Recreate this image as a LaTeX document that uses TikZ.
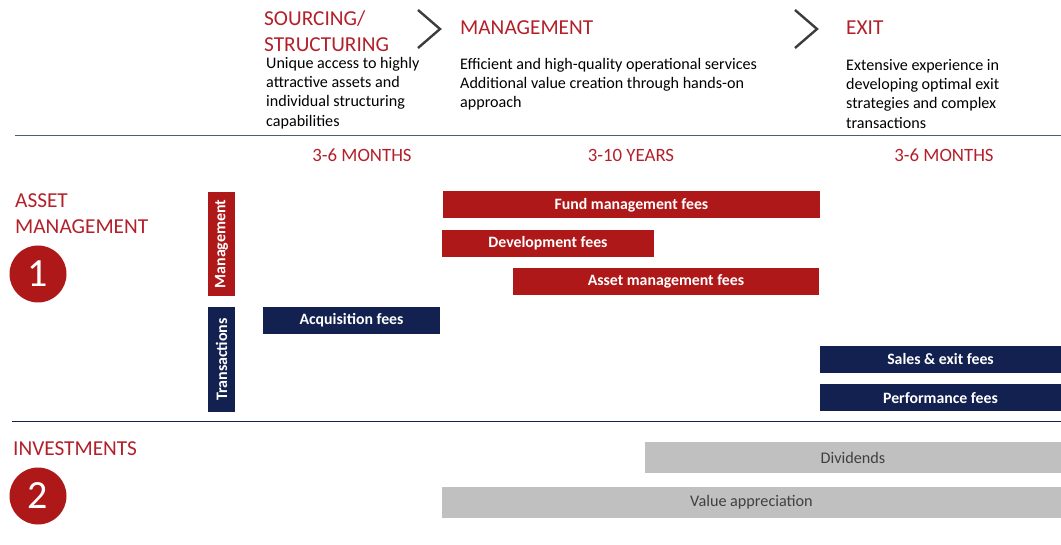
\documentclass[tikz,border=0pt]{standalone}
\usepackage{fontspec}
\setmainfont{Carlito}
\usetikzlibrary{positioning}

\definecolor{feered}{HTML}{AF1818}
\definecolor{headred}{HTML}{B3202A}
\definecolor{feenavy}{HTML}{12214F}
\definecolor{feegray}{HTML}{C0C0C0}
\definecolor{rulegray}{HTML}{4F5C78}
\definecolor{chevgray}{HTML}{3C3C3C}

\tikzset{
	head/.style={anchor=base west, inner sep=0, text=headred, font=\fontsize{21.3}{22}\selectfont},
	blurb/.style={anchor=north west, inner sep=0, align=left, font=\fontsize{16.1}{19.3}\selectfont},
	span/.style={inner sep=0, text=headred, font=\fontsize{18.8}{20}\selectfont},
	fee/.style={inner sep=0, minimum height=27pt, text=white, font=\fontsize{15.8}{17}\selectfont\bfseries},
	redfee/.style={fee, fill=feered},
	navyfee/.style={fee, fill=feenavy},
	grayfee/.style={fee, fill=feegray, minimum height=31pt, text=black!75, font=\fontsize{16.2}{17}\selectfont},
	tab/.style={inner sep=0, rotate=90, minimum height=27pt, text=white, font=\fontsize{16}{17}\selectfont\bfseries},
	num/.style={circle, fill=feered, minimum size=57pt, inner sep=0, text=white, font=\fontsize{40}{40}\selectfont},
	chevron/.style={chevgray, line width=2.4pt}
}

\begin{document}
\begin{tikzpicture}[x=1pt, y=-1pt]
	\useasboundingbox (0,0) rectangle (1061,545);

	% phases across the top
	\node[head] (src)  at (264,26) {SOURCING/};
	\node[head] (str)  at (264,52) {STRUCTURING};
	\node[head] (mgt)  at (460,35) {MANAGEMENT};
	\node[head] (exit) at (846,35) {EXIT};

	\draw[chevron] (418,10) -- (440,29) -- (418,48);
	\draw[chevron] (795,10) -- (817,29) -- (795,48);

	\node[blurb] (srctxt)  at (266,57) {Unique access to highly\\attractive assets and\\individual structuring\\capabilities};
	\node[blurb] (mgttxt)  at (460,58) {Efficient and high-quality operational services\\Additional value creation through hands-on\\approach};
	\node[blurb] (exittxt) at (846,59) {Extensive experience in\\developing optimal exit\\strategies and complex\\transactions};

	\draw[rulegray, line width=1.6pt] (15,135.5) -- (1061,135.5);

	% how long each phase lasts
	\node[span] (d1) at (362,155) {3-6 MONTHS};
	\node[span] (d2) at (631,155) {3-10 YEARS};
	\node[span] (d3) at (944,155) {3-6 MONTHS};

	% (1) asset management
	\node[head, anchor=base west] (am1) at (15,208) {ASSET};
	\node[head, anchor=base west] (am2) at (15,234) {MANAGEMENT};
	\node[num] (one) at (38,274) {1};

	\node[tab, fill=feered, minimum width=104pt]  (tabm) at (221.5,244) {Management};
	\node[tab, fill=feenavy, minimum width=105pt] (tabt) at (221.5,359.5) {Transactions};

	\node[redfee, minimum width=377pt] (fund)  at (631.5,205)   {Fund management fees};
	\node[redfee, minimum width=212pt] (dev)   at (548,243.5)   {Development fees};
	\node[redfee, minimum width=306pt] (asset) at (666,281.5)   {Asset management fees};

	\node[navyfee, minimum width=177pt] (acq)  at (351.5,320.5) {Acquisition fees};
	\node[navyfee, minimum width=241pt] (sale) at (940.5,359.5) {Sales \& exit fees};
	\node[navyfee, minimum width=241pt] (perf) at (940.5,398)   {Performance fees};

	\draw[feenavy, line width=1.3pt] (12,421.5) -- (1061,421.5);

	% (2) investments
	\node[head, anchor=base west] (inv) at (13,455) {INVESTMENTS};
	\node[num] (two) at (38,496) {2};

	\node[grayfee, minimum width=416pt] (div) at (853,457.5) {Dividends};
	\node[grayfee, minimum width=619pt] (val) at (751.5,502)  {Value appreciation};
\end{tikzpicture}
\end{document}
